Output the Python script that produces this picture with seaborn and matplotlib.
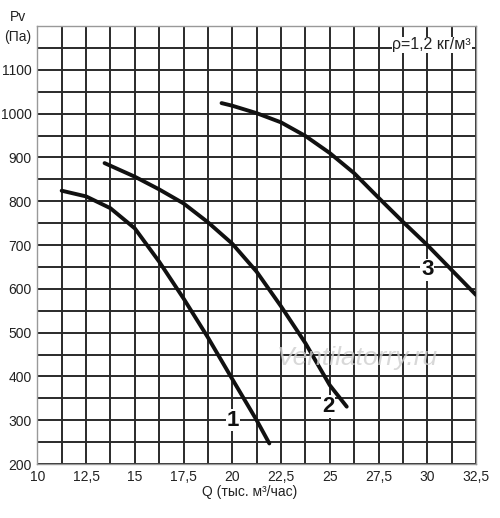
import pandas as pd
import seaborn as sns
import matplotlib.pyplot as plt
from matplotlib.ticker import MultipleLocator, FuncFormatter

# Кривые вентилятора (Q, тыс. м3/час -> Pv, Па)
q1 = [11.25, 12.5, 13.75, 15.0, 16.25, 17.5, 18.75, 20.0, 21.25, 21.9]
p1 = [824, 811, 784, 738, 662, 578, 489, 394, 300, 247]

q2 = [13.45, 13.75, 15.0, 16.25, 17.5, 18.75, 20.0, 21.25, 22.5, 23.75, 25.0, 25.87]
p2 = [887, 881, 856, 827, 795, 752, 703, 639, 560, 476, 380, 331]

q3 = [19.45, 20.0, 21.25, 22.5, 23.75, 25.0, 26.25, 27.5, 28.75, 30.0, 31.25, 32.5]
p3 = [1024, 1018, 1001, 980, 949, 910, 864, 808, 753, 700, 643, 586]

curve_names = ['1', '2', '3']
label_q = [20.05, 24.92, 30.0]
label_p = [300, 331, 643]

x_ticks = [10, 12.5, 15, 17.5, 20, 22.5, 25, 27.5, 30, 32.5]
y_ticks = [200, 300, 400, 500, 600, 700, 800, 900, 1000, 1100]

df = pd.concat([
    pd.DataFrame({'Q': q1, 'P': p1, 'curve': '1'}),
    pd.DataFrame({'Q': q2, 'P': p2, 'curve': '2'}),
    pd.DataFrame({'Q': q3, 'P': p3, 'curve': '3'}),
])

sns.set_style("white")
plt.rcParams['font.family'] = ['Liberation Sans', 'DejaVu Sans']

fig = plt.figure(figsize=(5, 5.18), dpi=100)
ax = fig.add_axes([0.0746, 0.1042, 0.8774, 0.8456])

sns.lineplot(data=df, x='Q', y='P', units='curve', estimator=None, sort=False,
             color='#111111', linewidth=2.8, ax=ax, zorder=3)
for line in ax.get_lines():
    line.set_solid_joinstyle('round')

ax.set_xlim(10, 32.5)
ax.set_ylim(200, 1200)
ax.set_xticks(x_ticks)
ax.set_yticks(y_ticks)
ax.xaxis.set_minor_locator(MultipleLocator(1.25))
ax.yaxis.set_minor_locator(MultipleLocator(50))
ax.xaxis.set_major_formatter(FuncFormatter(lambda v, _: f"{v:g}".replace('.', ',')))
ax.grid(which='both', color='#2a2a2a', linewidth=1.4)
ax.tick_params(which='both', length=0, labelsize=10, colors='#222222', pad=4)
for s in ax.spines.values():
    s.set_color('#999999')
    s.set_linewidth(1)
ax.set_xlabel('')
ax.set_ylabel('')

# номера кривых
for name, x, y in zip(curve_names, label_q, label_p):
    ax.text(x, y, name, fontsize=16, fontweight='bold', ha='center', va='center',
            color='#111111', zorder=5,
            bbox=dict(facecolor='white', edgecolor='none', pad=0.5))

ax.text(32.25, 1157, 'ρ=1,2 кг/м³', fontsize=11.5, ha='right', va='center',
        color='#222222', zorder=5,
        bbox=dict(facecolor='white', edgecolor='none', pad=0.5))

ax.text(26.4, 442, 'Ventilatorry.ru', fontsize=19, style='italic', ha='center',
        va='center', color='#cfcfcf', alpha=0.8, zorder=4)

fig.text(0.5, 0.05, 'Q (тыс. м³/час)', ha='center', va='center', fontsize=10,
         color='#222222')
fig.text(0.036, 0.967, 'Pv', ha='center', va='center', fontsize=10, color='#222222')
fig.text(0.036, 0.929, '(Па)', ha='center', va='center', fontsize=10, color='#222222')

fig.savefig('out.png', dpi=100)
